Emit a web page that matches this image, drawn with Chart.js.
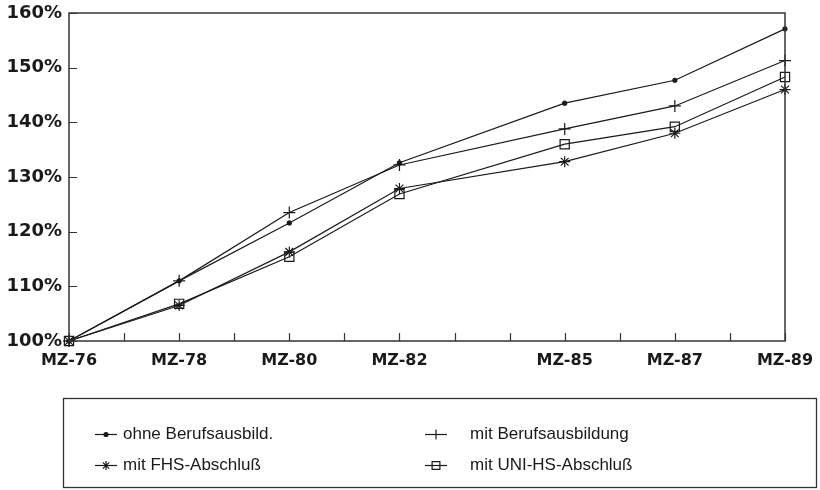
<!DOCTYPE html>
<html>
<head>
<meta charset="utf-8">
<script src="https://cdn.jsdelivr.net/npm/chart.js@4"></script>
<style>
  html, body { margin: 0; padding: 0; background: #fff; }
  #wrap { width: 820px; height: 490px; position: relative; }
</style>
</head>
<body>
<div id="wrap"><canvas id="chart"></canvas></div>
<script>
const years = [76, 78, 80, 82, 85, 87, 89];
const yearLabels = ['MZ-76', 'MZ-78', 'MZ-80', 'MZ-82', 'MZ-85', 'MZ-87', 'MZ-89'];
const seriesNames = ['ohne Berufsausbild.', 'mit Berufsausbildung', 'mit FHS-Abschluß', 'mit UNI-HS-Abschluß'];
const ohneBeruf = [100, 111.0, 121.6, 132.6, 143.5, 147.7, 157.1];
const mitBeruf = [100, 111.0, 123.5, 132.2, 138.8, 143.0, 151.3];
const mitFHS = [100, 106.5, 116.3, 127.9, 132.8, 138.0, 146.0];
const mitUNI = [100, 106.8, 115.4, 126.9, 136.0, 139.2, 148.3];
const yTicks = [100, 110, 120, 130, 140, 150, 160];

const ink = '#1a1a1a';

function toPoints(values) {
    return years.map((yr, i) => ({ x: yr, y: values[i] }));
}

function makeSet(label, values, style, radius, fill) {
    return {
        label: label,
        data: toPoints(values),
        borderColor: ink,
        borderWidth: 1.2,
        pointStyle: style,
        pointRadius: radius,
        pointHoverRadius: radius,
        pointBorderColor: ink,
        pointBorderWidth: 1.2,
        pointBackgroundColor: fill,
        tension: 0,
        clip: false
    };
}

// inward tick marks, frame and boxed legend
const framePlugin = {
    id: 'frame',
    afterDraw(chart) {
        const ctx = chart.ctx;
        const area = chart.chartArea;
        const xs = chart.scales.x;
        const ys = chart.scales.y;
        ctx.save();
        ctx.strokeStyle = '#333';
        ctx.lineWidth = 1.5;
        ctx.strokeRect(area.left, area.top, area.right - area.left, area.bottom - area.top);

        ctx.lineWidth = 1.2;
        ctx.beginPath();
        xs.ticks.forEach(t => {
            const px = Math.round(xs.getPixelForValue(t.value)) + 0.5;
            ctx.moveTo(px, area.bottom);
            ctx.lineTo(px, area.bottom - 8);
        });
        ys.ticks.forEach(t => {
            const py = Math.round(ys.getPixelForValue(t.value)) + 0.5;
            ctx.moveTo(area.left, py);
            ctx.lineTo(area.left + 8, py);
        });
        ctx.stroke();

        // legend box
        ctx.lineWidth = 1.3;
        ctx.strokeStyle = '#333';
        ctx.strokeRect(63.5, 398.5, 753, 89);

        const slots = [
            { x: 95, y: 434 }, { x: 425, y: 434 },
            { x: 95, y: 465 }, { x: 425, y: 465 }
        ];
        ctx.font = '17px "Liberation Sans", Arial, sans-serif';
        ctx.textBaseline = 'middle';
        ctx.textAlign = 'left';
        chart.data.datasets.forEach((ds, i) => {
            const s = slots[i];
            ctx.strokeStyle = ink;
            ctx.lineWidth = 1.2;
            ctx.beginPath();
            ctx.moveTo(s.x, s.y + 0.5);
            ctx.lineTo(s.x + 22, s.y + 0.5);
            ctx.stroke();
            ctx.fillStyle = ds.pointBackgroundColor;
            Chart.helpers.drawPoint(ctx, {
                pointStyle: ds.pointStyle,
                radius: Math.max(2, ds.pointRadius - 1),
                rotation: 0,
                borderWidth: 1.2
            }, s.x + 11, s.y + 0.5);
            ctx.fillStyle = ink;
            ctx.fillText(ds.label, s.x + (i % 2 === 0 ? 28 : 45), s.y);
        });
        ctx.restore();
    }
};

new Chart(document.getElementById('chart'), {
    type: 'line',
    data: {
        datasets: [
            makeSet(seriesNames[0], ohneBeruf, 'circle', 2, ink),
            makeSet(seriesNames[1], mitBeruf, 'cross', 6, 'rgba(0,0,0,0)'),
            makeSet(seriesNames[2], mitFHS, 'star', 5.5, 'rgba(0,0,0,0)'),
            makeSet(seriesNames[3], mitUNI, 'rect', 6.5, 'rgba(0,0,0,0)')
        ]
    },
    options: {
        responsive: true,
        maintainAspectRatio: false,
        animation: false,
        layout: { padding: { left: 0, right: 35, top: 13, bottom: 119 } },
        plugins: {
            legend: { display: false },
            tooltip: { enabled: false }
        },
        scales: {
            x: {
                type: 'linear',
                min: years[0],
                max: years[years.length - 1],
                grid: { display: false, drawTicks: false },
                border: { display: false },
                afterFit: scale => {
                    scale.height = 30;
                    scale.paddingLeft = 0;
                    scale.paddingRight = 0;
                },
                ticks: {
                    stepSize: 1,
                    autoSkip: false,
                    maxRotation: 0,
                    padding: 10,
                    color: ink,
                    font: { family: '"DejaVu Sans", sans-serif', size: 16, weight: 'bold' },
                    callback: v => {
                        const i = years.indexOf(v);
                        return i >= 0 ? yearLabels[i] : '';
                    }
                }
            },
            y: {
                min: yTicks[0],
                max: yTicks[yTicks.length - 1],
                grid: { display: false, drawTicks: false },
                border: { display: false },
                afterFit: scale => {
                    scale.width = 69;
                    scale.paddingTop = 0;
                    scale.paddingBottom = 0;
                },
                afterBuildTicks: scale => { scale.ticks = yTicks.map(v => ({ value: v })); },
                ticks: {
                    padding: 7,
                    color: ink,
                    font: { family: '"DejaVu Sans", sans-serif', size: 18, weight: 'bold' },
                    callback: v => v + '%'
                }
            }
        }
    },
    plugins: [framePlugin]
});
</script>
</body>
</html>
